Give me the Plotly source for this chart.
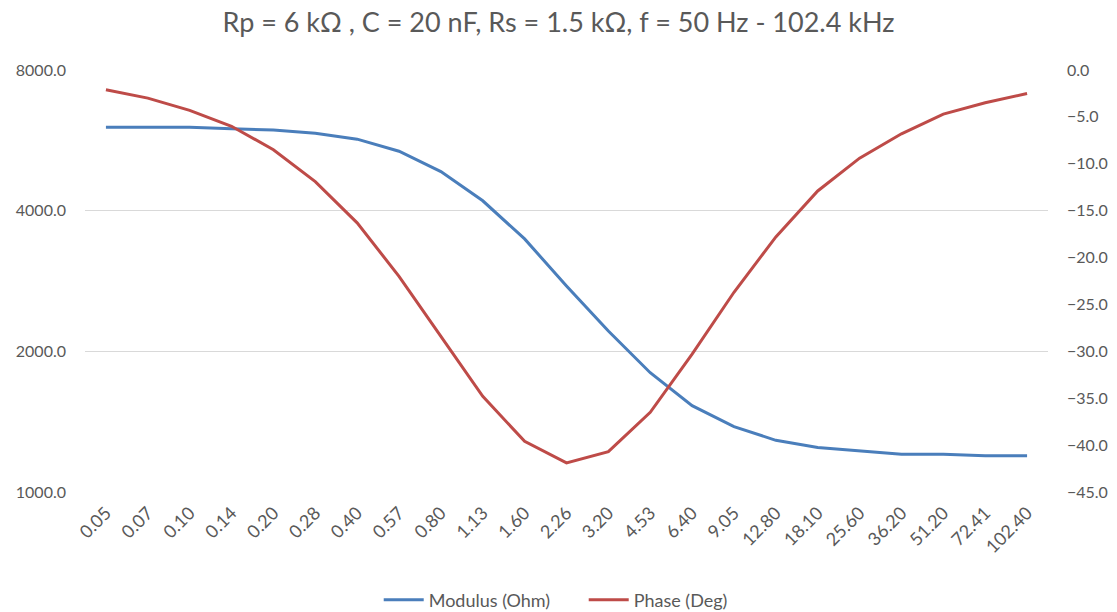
import plotly.graph_objects as go

freq_khz = ["0.05", "0.07", "0.10", "0.14", "0.20", "0.28", "0.40", "0.57", "0.80", "1.13",
            "1.60", "2.26", "3.20", "4.53", "6.40", "9.05", "12.80", "18.10", "25.60",
            "36.20", "51.20", "72.41", "102.40"]
modulus_ohm = [6030, 6030, 6030, 5990, 5950, 5860, 5690, 5360, 4850, 4200,
               3480, 2760, 2210, 1800, 1530, 1380, 1290, 1245, 1225, 1205,
               1205, 1195, 1195]
phase_deg = [-2.1, -3.0, -4.3, -6.0, -8.5, -11.9, -16.3, -22.0, -28.4, -34.8,
             -39.6, -41.9, -40.7, -36.5, -30.3, -23.7, -17.8, -12.9, -9.4,
             -6.8, -4.7, -3.5, -2.5]
left_ticks = [1000, 2000, 4000, 8000]

fig = go.Figure()
fig.add_trace(go.Scatter(x=freq_khz, y=modulus_ohm, mode="lines", name="Modulus (Ohm)",
                         line=dict(color="#4A7EBB", width=3), yaxis="y"))
fig.add_trace(go.Scatter(x=freq_khz, y=phase_deg, mode="lines", name="Phase (Deg)",
                         line=dict(color="#BE4B48", width=3), yaxis="y2"))

font_family = "Lato, 'Open Sans', sans-serif"
fig.update_layout(
    width=1117, height=612,
    margin=dict(l=85, r=69, t=70, b=120, autoexpand=False),
    paper_bgcolor="white", plot_bgcolor="white",
    font=dict(family=font_family, color="#595959", size=16),
    title=dict(text="Rp = 6 kΩ , C = 20 nF, Rs = 1.5 kΩ, f = 50 Hz - 102.4 kHz",
               x=0.5, xanchor="center", y=0.963, yanchor="middle",
               font=dict(size=27, color="#595959", family=font_family)),
    xaxis=dict(type="category", range=[-0.5, len(freq_khz) - 0.5], tickangle=-45,
               showgrid=False, showline=False, ticks="", zeroline=False,
               ticklabelstandoff=6, automargin=False,
               tickfont=dict(size=18, color="#595959")),
    yaxis=dict(type="log", range=[3, 3.90309], tickvals=left_ticks,
               ticktext=[f"{v:.1f}" for v in left_ticks],
               showgrid=True, gridcolor="#D9D9D9", gridwidth=1.3, zeroline=False,
               showline=False, ticks="", ticklabelstandoff=18, automargin=False,
               tickfont=dict(size=16, color="#595959")),
    yaxis2=dict(overlaying="y", side="right", range=[-45, 0], dtick=5, tickformat=".1f",
                showgrid=False, zeroline=False, showline=False, ticks="",
                ticklabelstandoff=18, automargin=False,
                tickfont=dict(size=16, color="#595959")),
    legend=dict(orientation="h", x=0.305, xanchor="left", y=-0.256, yanchor="middle",
                font=dict(size=18, color="#595959"), itemwidth=40, entrywidth=150),
    showlegend=True,
)

fig.write_html("out.html")
